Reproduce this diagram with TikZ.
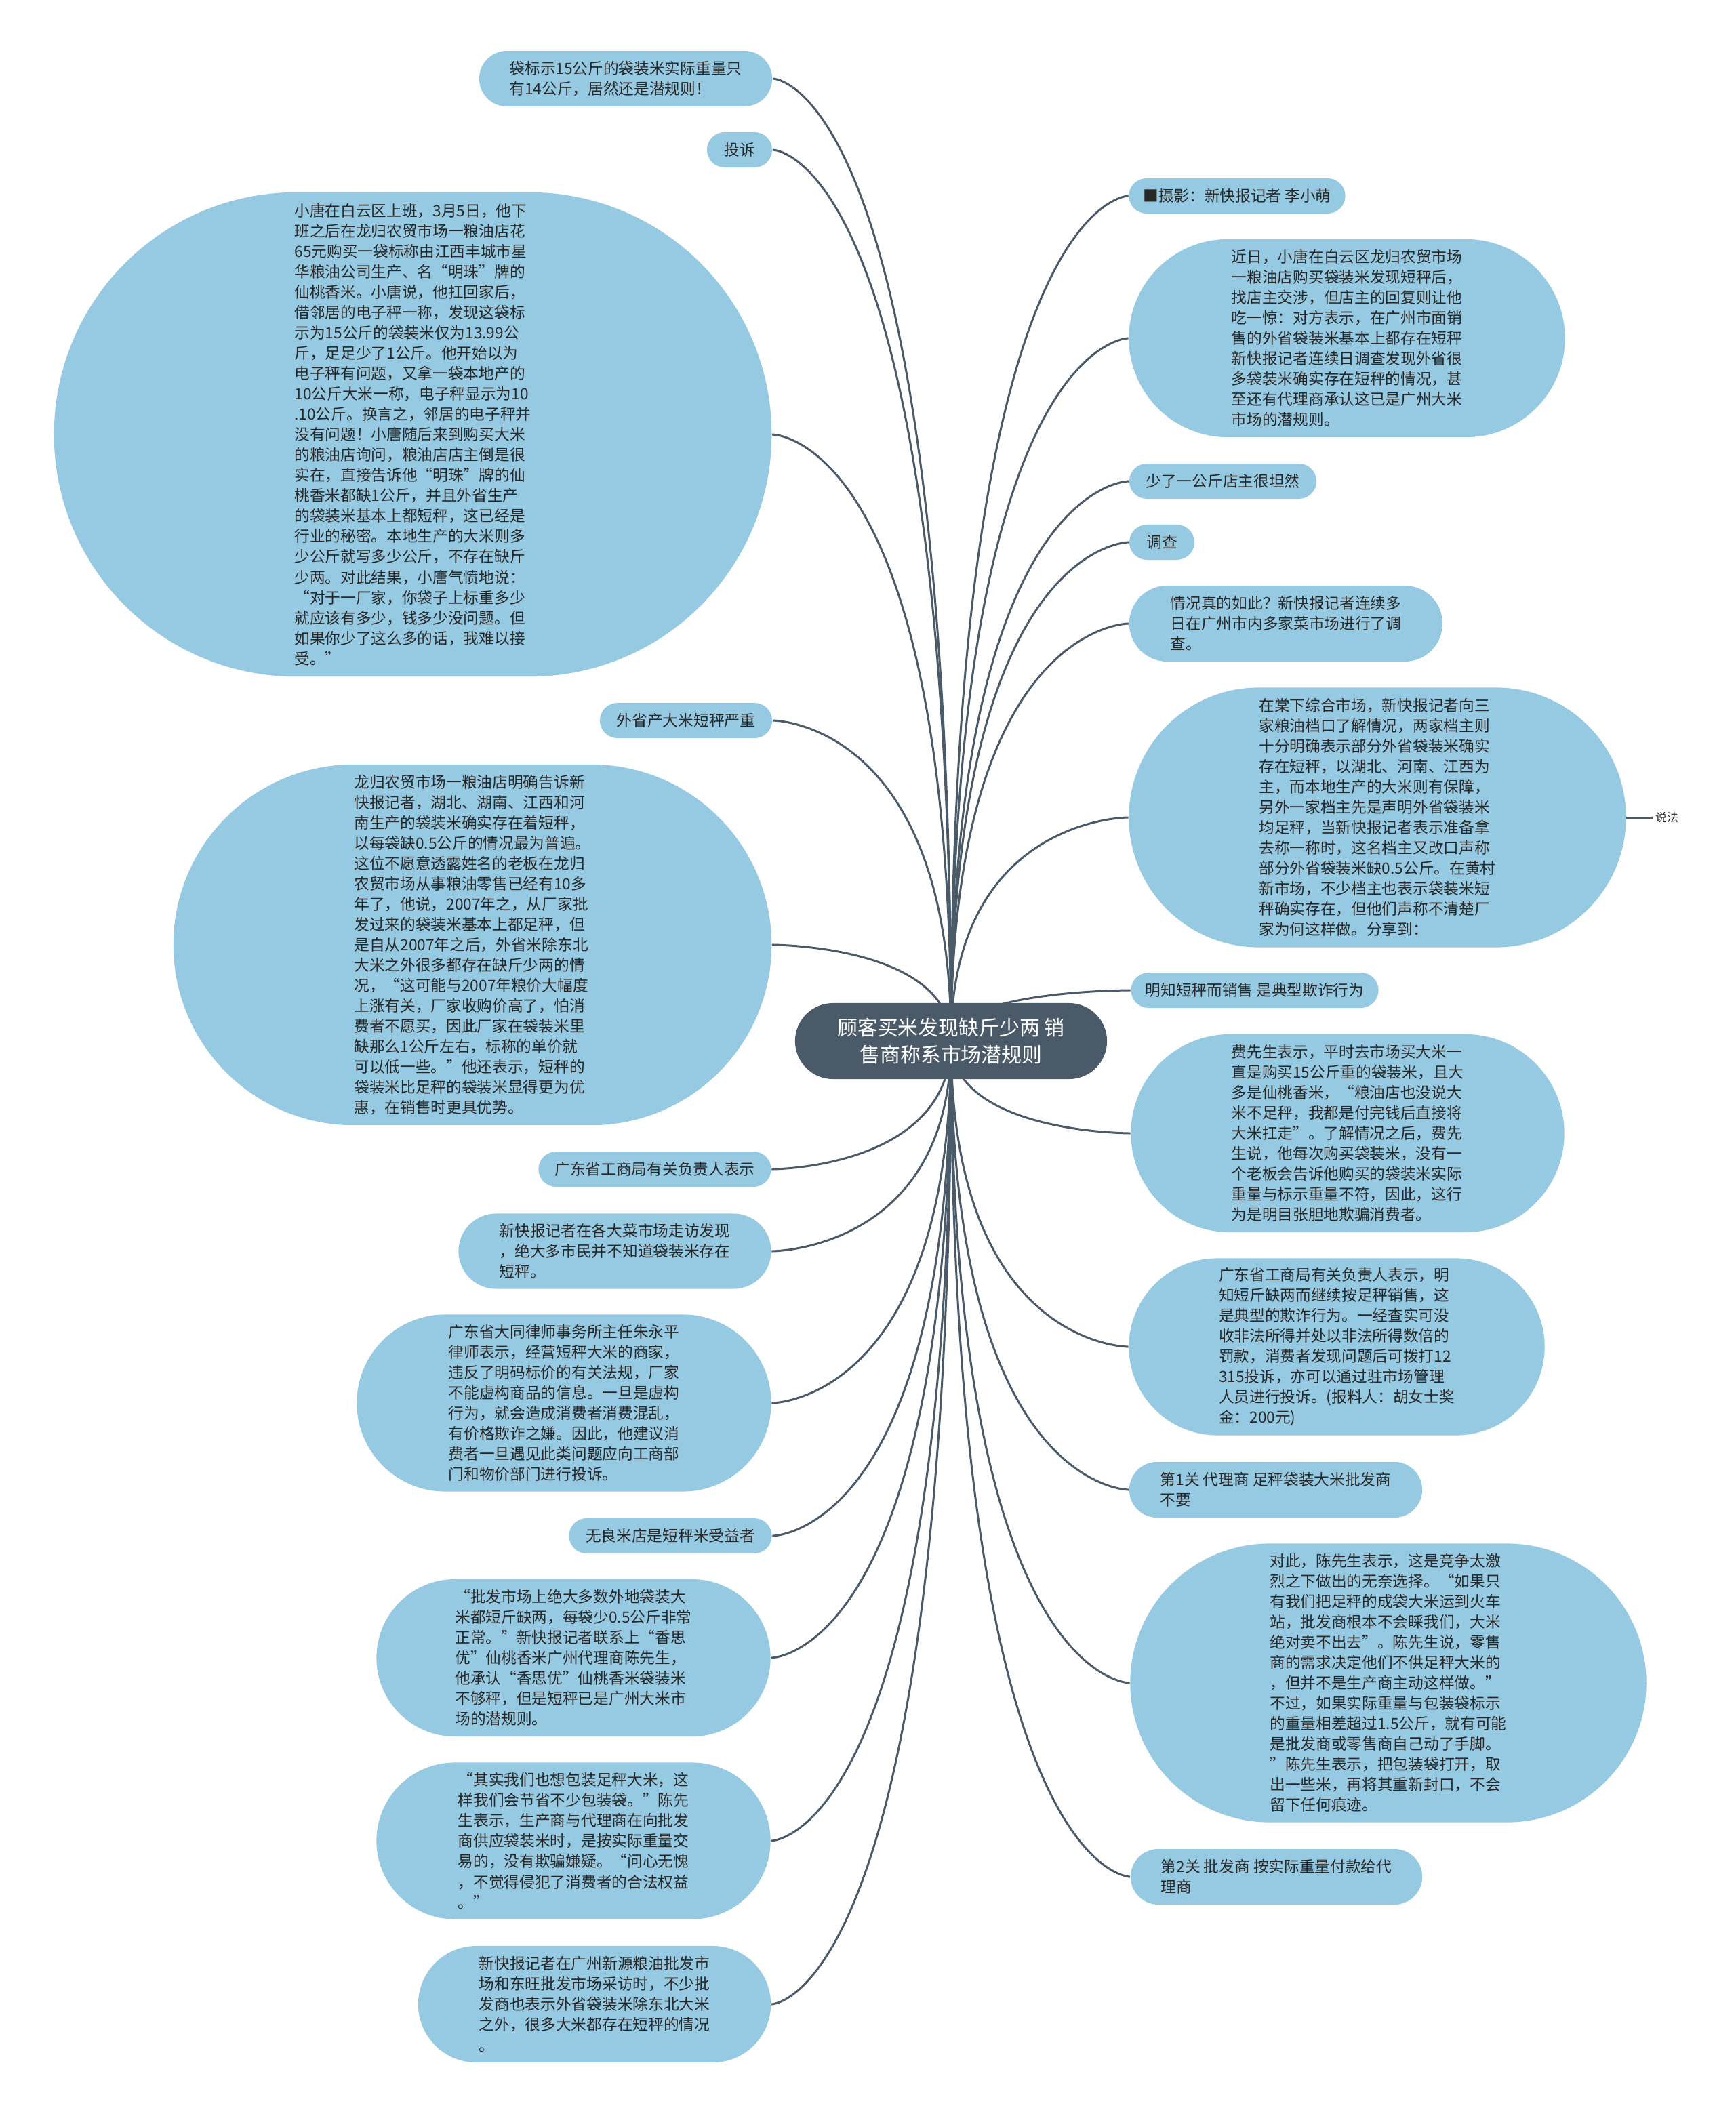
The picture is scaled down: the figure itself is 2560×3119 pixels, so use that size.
\documentclass[tikz,border=0pt]{standalone}
\usepackage{fontspec}
\setmainfont{Noto Sans CJK SC}
\usepackage{xcolor}
\usepackage{tikz}
\definecolor{nodeblue}{RGB}{150,202,227}
\definecolor{slate}{RGB}{75,90,105}
\definecolor{txtdark}{RGB}{40,40,40}
\usetikzlibrary{calc}
\pgfdeclarelayer{bg}
\pgfsetlayers{bg,main}
\newcommand{\leaffont}{\fontsize{6.45pt}{8.54pt}\selectfont}
\newcommand{\topicfont}{\fontsize{8.5pt}{11.4pt}\selectfont}
\newcommand{\notefont}{\fontsize{4.8pt}{6pt}\selectfont}

\begin{document}
\begin{tikzpicture}[x=0.01cm, y=-0.01cm,
    leaf/.style={rectangle, fill=nodeblue, text=txtdark, align=left,
                 inner sep=0pt, font=\leaffont},
    pill/.style 2 args={minimum width=#1cm, minimum height=#2cm,
                 rounded corners=#2cm/2},
    topic/.style={rectangle, fill=slate, text=white, align=center,
                 inner sep=0pt, font=\topicfont},
    link/.style={draw=slate, line width=0.85pt},
    note/.style={font=\notefont, text=txtdark, inner sep=0.03cm}
]
    \useasboundingbox (0,0) rectangle (2560,3119);

    % centre
    \node[topic, pill={4.60}{1.12}] (topic) at (1403,1536)
        {顾客买米发现缺斤少两 销\\售商称系市场潜规则};

    % left side
    \node[leaf, pill={4.32}{0.82}] (weight) at (923,116)
        {袋标示15公斤的袋装米实际重量只\\有14公斤，居然还是潜规则！};
    \node[leaf, pill={0.96}{0.52}] (tousu) at (1091,221) {投诉};
    \node[leaf, pill={10.58}{7.14}] (tang) at (609,641)
        {小唐在白云区上班，3月5日，他下\\
         班之后在龙归农贸市场一粮油店花\\
         65元购买一袋标称由江西丰城市星\\
         华粮油公司生产、名“明珠”牌的\\
         仙桃香米。小唐说，他扛回家后，\\
         借邻居的电子秤一称，发现这袋标\\
         示为15公斤的袋装米仅为13.99公\\
         斤，足足少了1公斤。他开始以为\\
         电子秤有问题，又拿一袋本地产的\\
         10公斤大米一称，电子秤显示为10\\
         .10公斤。换言之，邻居的电子秤并\\
         没有问题！小唐随后来到购买大米\\
         的粮油店询问，粮油店店主倒是很\\
         实在，直接告诉他“明珠”牌的仙\\
         桃香米都缺1公斤，并且外省生产\\
         的袋装米基本上都短秤，这已经是\\
         行业的秘密。本地生产的大米则多\\
         少公斤就写多少公斤，不存在缺斤\\
         少两。对此结果，小唐气愤地说：\\
         “对于一厂家，你袋子上标重多少\\
         就应该有多少，钱多少没问题。但\\
         如果你少了这么多的话，我难以接\\
         受。”};
    \node[leaf, pill={2.54}{0.52}] (waisheng) at (1012,1063) {外省产大米短秤严重};
    \node[leaf, pill={8.82}{5.32}] (longgui) at (697,1394)
        {龙归农贸市场一粮油店明确告诉新\\
         快报记者，湖北、湖南、江西和河\\
         南生产的袋装米确实存在着短秤，\\
         以每袋缺0.5公斤的情况最为普遍。\\
         这位不愿意透露姓名的老板在龙归\\
         农贸市场从事粮油零售已经有10多\\
         年了，他说，2007年之，从厂家批\\
         发过来的袋装米基本上都足秤，但\\
         是自从2007年之后，外省米除东北\\
         大米之外很多都存在缺斤少两的情\\
         况，“这可能与2007年粮价大幅度\\
         上涨有关，厂家收购价高了，怕消\\
         费者不愿买，因此厂家在袋装米里\\
         缺那么1公斤左右，标称的单价就\\
         可以低一些。”他还表示，短秤的\\
         袋装米比足秤的袋装米显得更为优\\
         惠，在销售时更具优势。};
    \node[leaf, pill={3.43}{0.52}] (gdsay) at (966,1725) {广东省工商局有关负责人表示};
    \node[leaf, pill={4.61}{1.11}] (visit) at (907,1846)
        {新快报记者在各大菜市场走访发现\\
         ，绝大多市民并不知道袋装米存在\\
         短秤。};
    \node[leaf, pill={6.11}{2.61}] (lawyer) at (832,2070)
        {广东省大同律师事务所主任朱永平\\
         律师表示，经营短秤大米的商家，\\
         违反了明码标价的有关法规，厂家\\
         不能虚构商品的信息。一旦是虚构\\
         行为，就会造成消费者消费混乱，\\
         有价格欺诈之嫌。因此，他建议消\\
         费者一旦遇见此类问题应向工商部\\
         门和物价部门进行投诉。};
    \node[leaf, pill={2.99}{0.52}] (benefit) at (989,2266) {无良米店是短秤米受益者};
    \node[leaf, pill={5.81}{2.32}] (pifa) at (846,2446)
        {“批发市场上绝大多数外地袋装大\\
         米都短斤缺两，每袋少0.5公斤非常\\
         正常。”新快报记者联系上“香思\\
         优”仙桃香米广州代理商陈先生，\\
         他承认“香思优”仙桃香米袋装米\\
         不够秤，但是短秤已是广州大米市\\
         场的潜规则。};
    \node[leaf, pill={5.81}{2.31}] (qishi) at (846,2716)
        {“其实我们也想包装足秤大米，这\\
         样我们会节省不少包装袋。”陈先\\
         生表示，生产商与代理商在向批发\\
         商供应袋装米时，是按实际重量交\\
         易的，没有欺骗嫌疑。“问心无愧\\
         ，不觉得侵犯了消费者的合法权益\\
         。”};
    \node[leaf, pill={5.20}{1.72}] (xinyuan) at (877,2957)
        {新快报记者在广州新源粮油批发市\\
         场和东旺批发市场采访时，不少批\\
         发商也表示外省袋装米除东北大米\\
         之外，很多大米都存在短秤的情况\\
         。};

    % right side
    \node[leaf, pill={3.19}{0.52}] (photo) at (1825,289) {■摄影：新快报记者 李小萌};
    \node[leaf, pill={6.43}{2.92}] (jinri) at (1987,499)
        {近日，小唐在白云区龙归农贸市场\\
         一粮油店购买袋装米发现短秤后，\\
         找店主交涉，但店主的回复则让他\\
         吃一惊：对方表示，在广州市面销\\
         售的外省袋装米基本上都存在短秤\\
         新快报记者连续日调查发现外省很\\
         多袋装米确实存在短秤的情况，甚\\
         至还有代理商承认这已是广州大米\\
         市场的潜规则。};
    \node[leaf, pill={2.76}{0.52}] (tanran) at (1804,710) {少了一公斤店主很坦然};
    \node[leaf, pill={0.96}{0.52}] (diaocha) at (1714,800) {调查};
    \node[leaf, pill={4.62}{1.12}] (qingkuang) at (1897,920)
        {情况真的如此？新快报记者连续多\\
         日在广州市内多家菜市场进行了调\\
         查。};
    \node[leaf, pill={7.33}{3.83}] (tangxia) at (2032,1206)
        {在棠下综合市场，新快报记者向三\\
         家粮油档口了解情况，两家档主则\\
         十分明确表示部分外省袋装米确实\\
         存在短秤，以湖北、河南、江西为\\
         主，而本地生产的大米则有保障，\\
         另外一家档主先是声明外省袋装米\\
         均足秤，当新快报记者表示准备拿\\
         去称一称时，这名档主又改口声称\\
         部分外省袋装米缺0.5公斤。在黄村\\
         新市场，不少档主也表示袋装米短\\
         秤确实存在，但他们声称不清楚厂\\
         家为何这样做。分享到：};
    \node[note] (shuofa) at (2459,1206) {说法};
    \node[leaf, pill={3.65}{0.52}] (mingzhi) at (1851,1461) {明知短秤而销售 是典型欺诈行为};
    \node[leaf, pill={6.39}{2.92}] (fei) at (1988,1672)
        {费先生表示，平时去市场买大米一\\
         直是购买15公斤重的袋装米，且大\\
         多是仙桃香米，“粮油店也没说大\\
         米不足秤，我都是付完钱后直接将\\
         大米扛走”。了解情况之后，费先\\
         生说，他每次购买袋装米，没有一\\
         个老板会告诉他购买的袋装米实际\\
         重量与标示重量不符，因此，这行\\
         为是明目张胆地欺骗消费者。};
    \node[leaf, pill={6.13}{2.61}] (gdfull) at (1972,1987)
        {广东省工商局有关负责人表示，明\\
         知短斤缺两而继续按足秤销售，这\\
         是典型的欺诈行为。一经查实可没\\
         收非法所得并处以非法所得数倍的\\
         罚款，消费者发现问题后可拨打12\\
         315投诉，亦可以通过驻市场管理\\
         人员进行投诉。(报料人：胡女士奖\\
         金：200元)};
    \node[leaf, pill={4.32}{0.82}] (guan1) at (1882,2198)
        {第1关 代理商 足秤袋装大米批发商\\不要};
    \node[leaf, pill={7.61}{4.11}] (chen) at (2048,2483)
        {对此，陈先生表示，这是竞争太激\\
         烈之下做出的无奈选择。“如果只\\
         有我们把足秤的成袋大米运到火车\\
         站，批发商根本不会睬我们，大米\\
         绝对卖不出去”。陈先生说，零售\\
         商的需求决定他们不供足秤大米的\\
         ，但并不是生产商主动这样做。”\\
         不过，如果实际重量与包装袋标示\\
         的重量相差超过1.5公斤，就有可能\\
         是批发商或零售商自己动了手脚。\\
         ”陈先生表示，把包装袋打开，取\\
         出一些米，再将其重新封口，不会\\
         留下任何痕迹。};
    \node[leaf, pill={4.30}{0.82}] (guan2) at (1883,2769)
        {第2关 批发商 按实际重量付款给代\\理商};

    \begin{pgfonlayer}{bg}
    \fill[white] (0,0) rectangle (2560,3119);
    \draw[link] (topic.center) .. controls (topic.center |- weight.east) and (weight.east) .. (weight.east);
    \draw[link] (topic.center) .. controls (topic.center |- tousu.east) and (tousu.east) .. (tousu.east);
    \draw[link] (topic.center) .. controls (topic.center |- tang.east) and (tang.east) .. (tang.east);
    \draw[link] (topic.center) .. controls (topic.center |- waisheng.east) and (waisheng.east) .. (waisheng.east);
    \draw[link] (topic.center) .. controls (topic.center |- longgui.east) and (longgui.east) .. (longgui.east);
    \draw[link] (topic.center) .. controls (topic.center |- gdsay.east) and (gdsay.east) .. (gdsay.east);
    \draw[link] (topic.center) .. controls (topic.center |- visit.east) and (visit.east) .. (visit.east);
    \draw[link] (topic.center) .. controls (topic.center |- lawyer.east) and (lawyer.east) .. (lawyer.east);
    \draw[link] (topic.center) .. controls (topic.center |- benefit.east) and (benefit.east) .. (benefit.east);
    \draw[link] (topic.center) .. controls (topic.center |- pifa.east) and (pifa.east) .. (pifa.east);
    \draw[link] (topic.center) .. controls (topic.center |- qishi.east) and (qishi.east) .. (qishi.east);
    \draw[link] (topic.center) .. controls (topic.center |- xinyuan.east) and (xinyuan.east) .. (xinyuan.east);
    \draw[link] (topic.center) .. controls (topic.center |- photo.west) and (photo.west) .. (photo.west);
    \draw[link] (topic.center) .. controls (topic.center |- jinri.west) and (jinri.west) .. (jinri.west);
    \draw[link] (topic.center) .. controls (topic.center |- tanran.west) and (tanran.west) .. (tanran.west);
    \draw[link] (topic.center) .. controls (topic.center |- diaocha.west) and (diaocha.west) .. (diaocha.west);
    \draw[link] (topic.center) .. controls (topic.center |- qingkuang.west) and (qingkuang.west) .. (qingkuang.west);
    \draw[link] (topic.center) .. controls (topic.center |- tangxia.west) and (tangxia.west) .. (tangxia.west);
    \draw[link] (topic.center) .. controls (topic.center |- mingzhi.west) and (mingzhi.west) .. (mingzhi.west);
    \draw[link] (topic.center) .. controls (topic.center |- fei.west) and (fei.west) .. (fei.west);
    \draw[link] (topic.center) .. controls (topic.center |- gdfull.west) and (gdfull.west) .. (gdfull.west);
    \draw[link] (topic.center) .. controls (topic.center |- guan1.west) and (guan1.west) .. (guan1.west);
    \draw[link] (topic.center) .. controls (topic.center |- chen.west) and (chen.west) .. (chen.west);
    \draw[link] (topic.center) .. controls (topic.center |- guan2.west) and (guan2.west) .. (guan2.west);
    \draw[link] (tangxia.east) -- (shuofa.west);
    \end{pgfonlayer}
\end{tikzpicture}
\end{document}
